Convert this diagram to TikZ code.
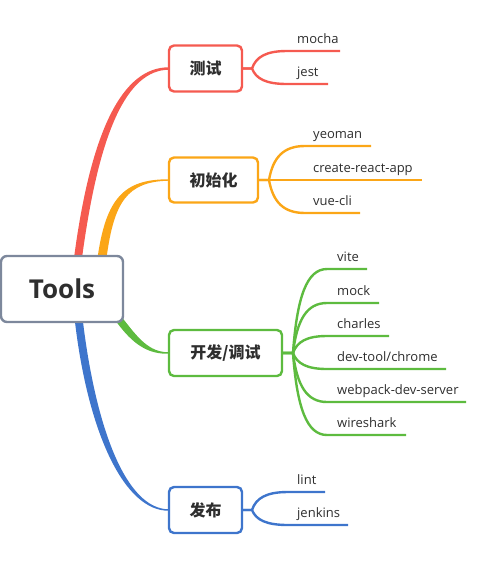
\documentclass[tikz,border=0pt]{standalone}
\usepackage{fontspec}
\setmainfont{Open Sans}
\newfontfamily\cjk{Noto Sans CJK SC}
\usetikzlibrary{calc}
\pgfdeclarelayer{bg}
\pgfsetlayers{bg,main}
\definecolor{cred}{HTML}{F55A50}
\definecolor{corange}{HTML}{FBA617}
\definecolor{cgreen}{HTML}{5DBB3F}
\definecolor{cblue}{HTML}{3E75CC}
\definecolor{cgray}{HTML}{7D889C}
\definecolor{ctext}{HTML}{2E2E2E}
% #1 leaf name, #2 colour, #3 branch node, #4 underline y, #5 underline start x,
% #6 underline end x, #7 text x, #8 text, #9 stub coordinate
\newcommand\mkleaf[9]{%
  \coordinate (#1s) at (#5,#4);
  \coordinate (#1e) at (#6,#4);
  \node[leaf] (#1) at (#7,#4-8) {#8};
  \draw[conn=#2] (#3.east) -- (#9) to[fan] (#1s) -- (#1e);
}
\tikzset{
  rootbox/.style={draw=cgray, line width=2.4pt, rounded corners=6pt, fill=white,
    minimum width=122pt, minimum height=66pt, inner sep=0pt,
    font=\fontsize{26}{26}\selectfont\bfseries, text=ctext},
  branch/.style={draw=#1, line width=2.4pt, rounded corners=5pt, fill=white,
    minimum height=46pt, inner sep=0pt,
    font=\cjk\fontsize{16}{16}\selectfont\bfseries, text=ctext},
  leaf/.style={anchor=base west, inner sep=0pt,
    font=\fontsize{13}{13}\selectfont, text=ctext},
  conn/.style={draw=#1, line width=2.4pt, line join=round},
  fan/.style={to path={let \p1=(\tikztostart), \p2=(\tikztotarget) in
    .. controls (\x1+4pt, {\y1+0.67*(\y2-\y1)}) and ({\x2-0.67*(\x2-\x1-4pt)}, \y2) .. (\tikztotarget)}},
}
\begin{document}
\begin{tikzpicture}[x=1pt,y=-1pt]
\useasboundingbox (0,0) rectangle (502,566);

% root and main branches
\node[rootbox] (root) at (62,289) {Tools};
\node[branch=cred, minimum width=73pt] (T) at (205.5,68.5) {测试};
\node[branch=corange, minimum width=89pt, minimum height=45pt] (I) at (213.5,180) {初始化};
\node[branch=cgreen, minimum width=113pt] (D) at (225.5,353) {开发/调试};
\node[branch=cblue, minimum width=73pt] (P) at (205.5,510) {发布};

% tapered connectors from the root
\begin{pgfonlayer}{bg}
\fill[cred] (74,258) .. controls (91,129) and (123,67) .. (169,67.3)
  -- (169,69.7) .. controls (127,70) and (99,131) .. (82,258) -- cycle;
\fill[corange] (97.5,258) .. controls (106,198) and (124,179) .. (169,179.3)
  -- (169,180.7) .. controls (127,181.5) and (114,202) .. (106.5,258) -- cycle;
\fill[cgreen] (122.5,318) .. controls (138,338) and (149,352.3) .. (169,352.3)
  -- (169,353.7) .. controls (147,354.5) and (132,343) .. (116.5,322) -- cycle;
\fill[cblue] (83,322) .. controls (96,428) and (126,509.3) .. (169,509.3)
  -- (169,510.7) .. controls (124,511.5) and (88,432) .. (75,322) -- cycle;
\end{pgfonlayer}

% stub coordinates
\coordinate (t0) at (252,68.5);
\coordinate (i0) at (269,180);
\coordinate (d0) at (293,353);
\coordinate (p0) at (252,510);

% leaves
\mkleaf{la}{cred}{T}{51}{287}{340}{297}{mocha}{t0}
\mkleaf{lb}{cred}{T}{84}{287}{328}{297}{jest}{t0}

\mkleaf{lc}{corange}{I}{146}{305}{371}{313}{yeoman}{i0}
\mkleaf{ld}{corange}{I}{180}{305}{422}{313}{create-react-app}{i0}
\mkleaf{le}{corange}{I}{213}{305}{360}{313}{vue-cli}{i0}

\mkleaf{lf}{cgreen}{D}{269}{327}{367}{337}{vite}{d0}
\mkleaf{lg}{cgreen}{D}{303}{327}{379}{337}{mock}{d0}
\mkleaf{lh}{cgreen}{D}{336}{327}{389}{337}{charles}{d0}
\mkleaf{li}{cgreen}{D}{369}{327}{446}{337}{dev-tool/chrome}{d0}
\mkleaf{lj}{cgreen}{D}{402}{327}{466}{337}{webpack-dev-server}{d0}
\mkleaf{lk}{cgreen}{D}{435}{327}{406}{337}{wireshark}{d0}

\mkleaf{ll}{cblue}{P}{492}{288}{325}{297}{lint}{p0}
\mkleaf{lm}{cblue}{P}{525}{288}{348}{297}{jenkins}{p0}
\end{tikzpicture}
\end{document}
